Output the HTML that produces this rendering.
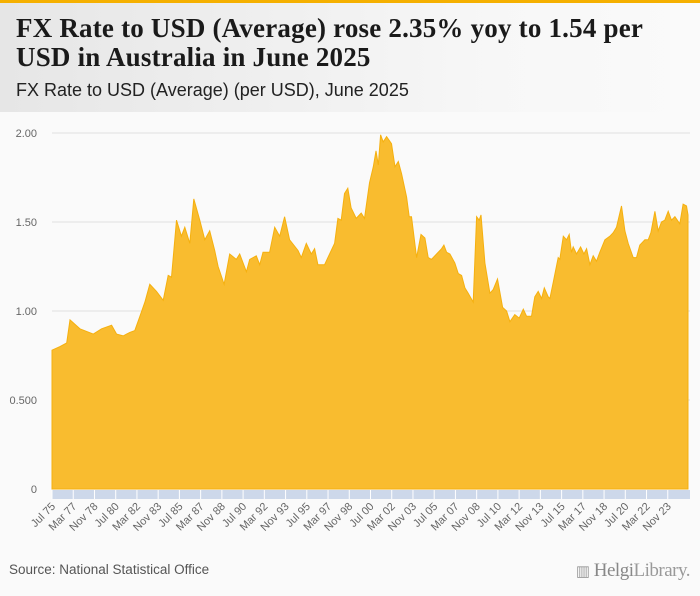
<!DOCTYPE html>
<html><head><meta charset="utf-8"><style>
body{margin:0;width:700px;height:596px;background:#fafafa;font-family:"Liberation Sans",sans-serif;overflow:hidden;position:relative}
#hdr{position:absolute;left:0;top:0;width:700px;height:112px;background:linear-gradient(90deg,#e6e6e6,#f7f7f7 70%,#fafafa)}
#bar{position:absolute;left:0;top:0;width:700px;height:3px;background:#f5b000}
#title{position:absolute;left:16px;top:14px;font-family:"Liberation Serif",serif;font-weight:bold;font-size:27px;line-height:29px;color:#1a1a1a;width:640px;letter-spacing:0.2px}
#sub{position:absolute;left:16px;top:80px;font-size:18px;color:#222}
#src{position:absolute;left:9px;top:562px;font-size:13.5px;color:#555}
#logo{position:absolute;right:10px;top:560px;font-family:"Liberation Serif",serif;font-size:19px;color:#999;letter-spacing:-0.5px}
svg{position:absolute;left:0;top:0}
</style></head><body>
<div id="hdr"></div>
<div id="bar"></div>
<div id="title">FX Rate to USD (Average) rose 2.35% yoy to 1.54 per USD in Australia in June 2025</div>
<div id="sub">FX Rate to USD (Average) (per USD), June 2025</div>
<svg id="chart" width="700" height="596"></svg>
<div id="src">Source: National Statistical Office</div>
<div id="logo"><span style="font-size:15px">▥</span> <b style="font-weight:normal;color:#888">Helgi</b>Library.</div>
<script>
const dates=[1975.50,1976.13,1976.65,1976.91,1977.69,1978.74,1979.39,1980.18,1980.57,1981.09,1981.61,1982.00,1982.40,1982.79,1983.18,1983.70,1984.23,1984.62,1984.88,1985.27,1985.66,1985.92,1986.32,1986.63,1987.10,1987.49,1987.88,1988.27,1988.54,1989.01,1989.45,1989.97,1990.23,1990.76,1991.02,1991.54,1991.80,1992.06,1992.58,1992.98,1993.37,1993.76,1994.15,1994.81,1995.07,1995.46,1995.85,1996.11,1996.37,1996.90,1997.16,1997.68,1997.94,1998.20,1998.46,1998.72,1998.98,1999.38,1999.77,2000.03,2000.42,2000.72,2000.93,2001.11,2001.29,2001.50,2001.76,2002.15,2002.42,2002.68,2002.94,2003.33,2003.54,2003.72,2004.12,2004.46,2004.77,2005.03,2005.29,2005.69,2006.08,2006.26,2006.47,2006.73,2007.12,2007.39,2007.65,2007.91,2008.17,2008.56,2008.83,2009.03,2009.17,2009.48,2009.87,2010.13,2010.47,2010.87,2011.18,2011.44,2011.83,2012.17,2012.49,2012.75,2013.14,2013.40,2013.66,2013.93,2014.14,2014.45,2014.58,2014.84,2015.23,2015.36,2015.63,2015.89,2016.10,2016.28,2016.41,2016.67,2016.99,2017.25,2017.46,2017.72,2017.98,2018.24,2018.50,2018.90,2019.29,2019.55,2019.81,2020.20,2020.47,2020.73,2021.12,2021.38,2021.64,2022.04,2022.30,2022.51,2022.82,2023.08,2023.34,2023.60,2023.87,2024.13,2024.39,2024.78,2025.04,2025.30,2025.42];
const values=[0.78,0.80,0.82,0.95,0.90,0.87,0.90,0.92,0.87,0.86,0.88,0.89,0.97,1.05,1.15,1.11,1.06,1.20,1.19,1.51,1.42,1.47,1.38,1.63,1.51,1.40,1.45,1.34,1.25,1.15,1.32,1.29,1.32,1.22,1.29,1.31,1.26,1.33,1.33,1.47,1.42,1.53,1.40,1.34,1.30,1.38,1.32,1.35,1.26,1.26,1.30,1.38,1.52,1.51,1.66,1.69,1.58,1.52,1.55,1.52,1.72,1.81,1.90,1.82,1.99,1.95,1.98,1.94,1.81,1.84,1.77,1.64,1.53,1.53,1.30,1.43,1.41,1.30,1.29,1.32,1.35,1.37,1.33,1.32,1.27,1.21,1.20,1.13,1.10,1.05,1.53,1.51,1.54,1.27,1.10,1.12,1.18,1.02,1.00,0.94,0.98,0.96,1.01,0.97,0.97,1.08,1.11,1.07,1.13,1.08,1.07,1.16,1.30,1.29,1.42,1.40,1.43,1.33,1.36,1.32,1.36,1.32,1.35,1.26,1.31,1.28,1.33,1.40,1.42,1.44,1.47,1.59,1.45,1.38,1.30,1.30,1.37,1.40,1.40,1.44,1.56,1.45,1.50,1.51,1.56,1.51,1.53,1.49,1.60,1.59,1.54];
const yTicks=[0,0.5,1,1.5,2];
const yTickLabels=["0","0.500","1.00","1.50","2.00"];
const xTickLabels=["Jul 75","Mar 77","Nov 78","Jul 80","Mar 82","Nov 83","Jul 85","Mar 87","Nov 88","Jul 90","Mar 92","Nov 93","Jul 95","Mar 97","Nov 98","Jul 00","Mar 02","Nov 03","Jul 05","Mar 07","Nov 08","Jul 10","Mar 12","Nov 13","Jul 15","Mar 17","Nov 18","Jul 20","Mar 22","Nov 23"];
const NS="http://www.w3.org/2000/svg";
const svg=document.getElementById('chart');
const X0=52,X1=689,Y0=489,Y1=133;
const xs=d=>X0+(d-1975.5)/(2025.5-1975.5)*(X1-X0);
const ys=v=>Y0-(v/2)*(Y0-Y1);
function mk(t,a){const e=document.createElementNS(NS,t);for(const k in a)e.setAttribute(k,a[k]);svg.appendChild(e);return e;}
yTicks.forEach((t,i)=>{
  if(t>0){const g=mk('line',{x1:X0,x2:690,y1:ys(t),y2:ys(t),stroke:'#e0e0e0','stroke-width':1});
  
  }
  const l=mk('text',{x:37,y:ys(t)+4,'text-anchor':'end','font-size':11,fill:'#666','font-family':'Liberation Sans, sans-serif'});
  l.textContent=yTickLabels[i];
  
  
});
let d='M'+xs(dates[0])+','+Y0;
dates.forEach((t,i)=>{d+=' L'+xs(t).toFixed(1)+','+ys(values[i]).toFixed(1);});
d+=' L'+xs(dates[dates.length-1])+','+Y0+' Z';
const area=mk('path',{d:d,fill:'#f9bc2f',stroke:'#f5b00f','stroke-width':1});


const strip=mk('rect',{x:X0,y:490,width:X1-X0+1,height:9,fill:'#cdd8ea'});


xTickLabels.forEach((s,i)=>{
  const dt=1975.5+i*20/12;
  const x=xs(dt);
  const sep=mk('line',{x1:x,x2:x,y1:490,y2:499,stroke:'#fff','stroke-width':1});
  
  
  const l=mk('text',{x:x+4,y:507,'text-anchor':'end','font-size':11,fill:'#666','font-family':'Liberation Sans, sans-serif',transform:`rotate(-45 ${x+4} 507)`});
  l.textContent=s;
  
  
});
</script>
</body></html>
